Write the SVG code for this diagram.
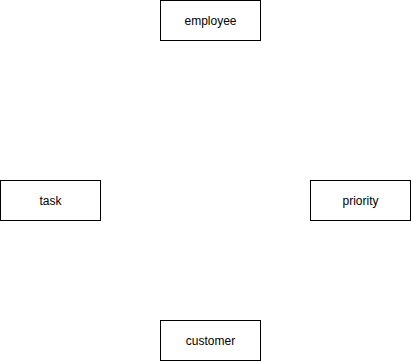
<svg xmlns="http://www.w3.org/2000/svg" width="411" height="361" viewBox="0 0 411 361">
  <style>
    .box { fill: #ffffff; stroke: #000000; stroke-width: 1; }
    .label { font-family: "Liberation Sans", Arial, Helvetica, sans-serif; font-size: 12px; fill: #000000; text-anchor: middle; dominant-baseline: central; }
  </style>
  <rect width="411" height="361" fill="#ffffff"/>
  <g id="connectors"></g>
  <g id="employee">
    <rect class="box" x="160.5" y="0.5" width="100" height="40"/>
    <text class="label" x="210.5" y="20.5">employee</text>
  </g>
  <g id="task">
    <rect class="box" x="0.5" y="180.5" width="100" height="40"/>
    <text class="label" x="50.5" y="200.5">task</text>
  </g>
  <g id="priority">
    <rect class="box" x="310.5" y="180.5" width="100" height="40"/>
    <text class="label" x="360.5" y="200.5">priority</text>
  </g>
  <g id="customer">
    <rect class="box" x="160.5" y="320.5" width="100" height="40"/>
    <text class="label" x="210.5" y="340.5">customer</text>
  </g>
</svg>
